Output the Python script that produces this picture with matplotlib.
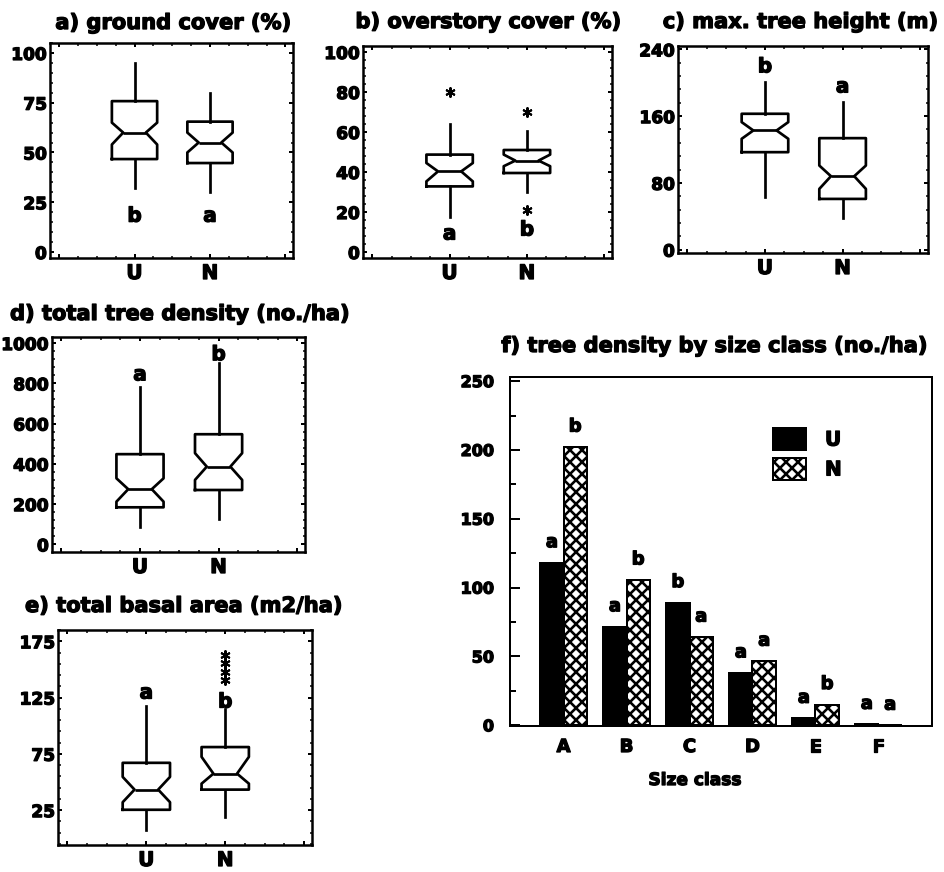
import matplotlib
matplotlib.use("Agg")
import matplotlib.pyplot as plt
import matplotlib.patheffects as pe
from matplotlib.text import Text
from matplotlib.ticker import AutoMinorLocator
import numpy as np

plt.rcParams['font.family'] = ['DejaVu Sans']
plt.rcParams['font.weight'] = 'bold'
plt.rcParams['hatch.linewidth'] = 2.6

W, H = 944, 872

groups = ['U', 'N']

# box stats per group: whislo, q1, notch low, median, notch high, q3, whishi
ground_U = [32, 46.7, 54, 60, 65, 75.8, 95]
ground_N = [30, 44.7, 50, 55, 60, 65.5, 80]
over_U = [17.6, 32.8, 35.3, 40.3, 44.5, 48.7, 63.9]
over_N = [30, 39.5, 42.9, 45.7, 48.7, 51, 60.5]
height_U = [62.8, 116.8, 132.8, 142.8, 152.8, 162.8, 200.8]
height_N = [37.6, 60.8, 72.8, 88, 100.8, 133.6, 176.8]
dens_U = [85, 184, 212, 274, 328, 448, 781]
dens_N = [124, 270, 320, 386, 453, 547, 900]
basal_U = [7.4, 25.3, 32, 43.2, 54.5, 67, 117.6]
basal_N = [19.3, 43.2, 48.5, 57.4, 72.3, 81, 114.6]

# outliers
over_fliers_U = [80]
over_fliers_N = [70, 21]
basal_fliers_N = [141, 148, 155.7, 163]

# significance letters (U, N)
ground_letters = ['b', 'a']
over_letters = ['a', 'b']
height_letters = ['b', 'a']
dens_letters = ['a', 'b']
basal_letters = ['a', 'b']
ground_letter_y = [18, 18]
over_letter_y = [9, 11]
height_letter_y = [219, 195]
dens_letter_y = [842, 942]
basal_letter_y = [129, 121]

# f) size class bars
size_classes = ['A', 'B', 'C', 'D', 'E', 'F']
size_U = [118, 71.5, 89, 38, 5, 0.6]
size_N = [202, 105.5, 64, 46.5, 15, 0]
size_letters_U = ['a', 'a', 'b', 'a', 'a', 'a']
size_letters_N = ['b', 'b', 'a', 'a', 'b', 'a']


def rect(x0, y0, x1, y1):
    return [x0 / W, 1 - y1 / H, (x1 - x0) / W, (y1 - y0) / H]


def stats(v, fliers=()):
    return dict(whislo=v[0], q1=v[1], cilo=v[2], med=v[3], cihi=v[4],
                q3=v[5], whishi=v[6], fliers=list(fliers))


fig = plt.figure(figsize=(W / 72, H / 72), dpi=72)

line = dict(color='black', linewidth=2.7)
flier = dict(marker=(6, 2, 0), markersize=10, markeredgecolor='black',
             markeredgewidth=2, linestyle='none')

panels = [
    ((50, 43, 293, 258), stats(ground_U), stats(ground_N),
     (-3, 105), [0, 25, 50, 75, 100], ground_letters, ground_letter_y),
    ((363, 46, 612, 258), stats(over_U, over_fliers_U), stats(over_N, over_fliers_N),
     (-3, 103), [0, 20, 40, 60, 80, 100], over_letters, over_letter_y),
    ((678, 46, 928, 253), stats(height_U), stats(height_N),
     (-4, 244), [0, 80, 160, 240], height_letters, height_letter_y),
    ((52, 337, 305, 552), stats(dens_U), stats(dens_N),
     (-38, 1030), [0, 200, 400, 600, 800, 1000], dens_letters, dens_letter_y),
    ((58, 630, 312, 845), stats(basal_U), stats(basal_N, basal_fliers_N),
     (-6, 185), [25, 75, 125, 175], basal_letters, basal_letter_y),
]

for box, su, sn, ylim, yticks, letters, letter_y in panels:
    ax = fig.add_axes(rect(*box))
    ax.bxp([su, sn], positions=[1, 2], widths=0.6, shownotches=True,
           showcaps=False, showfliers=True, manage_ticks=False,
           boxprops=line, whiskerprops=line, medianprops=line,
           flierprops=flier)
    for i in range(2):
        ax.text(i + 1, letter_y[i], letters[i], ha='center', va='center',
                fontsize=20, fontweight='bold')
    ax.set_xlim(-0.12, 3.1)
    ax.set_ylim(*ylim)
    ax.set_xticks([0, 1, 2, 3])
    ax.set_xticklabels(['', 'U', 'N', ''], fontsize=20, fontweight='bold')
    ax.set_yticks(yticks)
    ax.set_yticklabels([str(t) for t in yticks], fontsize=17, fontweight='bold')
    ax.xaxis.set_minor_locator(AutoMinorLocator(4))
    ax.yaxis.set_minor_locator(AutoMinorLocator(5))
    ax.tick_params(which='both', direction='in', top=True, right=True, width=2)
    ax.tick_params(which='major', length=4, pad=3)
    ax.tick_params(axis='x', which='major', pad=6)
    ax.tick_params(which='minor', length=2.5, width=1.5)
    for s in ax.spines.values():
        s.set_linewidth(2.5)

# f) bar chart
axf = fig.add_axes(rect(510, 377, 932, 726))
x = np.arange(len(size_classes))
w = 0.37
bu = axf.bar(x - w / 2, size_U, w, color='black', edgecolor='black', linewidth=2)
bn = axf.bar(x + w / 2, size_N, w, color='white', edgecolor='black',
             hatch='xx', linewidth=2)
for i in range(len(size_classes)):
    axf.text(x[i] - w / 2, size_U[i] + 15, size_letters_U[i], ha='center',
             va='center', fontsize=18, fontweight='bold')
    axf.text(x[i] + w / 2, size_N[i] + 15, size_letters_N[i], ha='center',
             va='center', fontsize=18, fontweight='bold')
axf.set_xlim(-0.85, 5.85)
axf.set_ylim(-0.5, 253)
axf.set_xticks(x)
axf.set_xticklabels(size_classes, fontsize=18, fontweight='bold')
axf.set_yticks([0, 50, 100, 150, 200, 250])
axf.set_yticklabels(['0', '50', '100', '150', '200', '250'], fontsize=16,
                    fontweight='bold')
axf.yaxis.set_minor_locator(AutoMinorLocator(2))
axf.tick_params(axis='x', length=0, pad=12)
axf.tick_params(axis='y', which='both', direction='in', width=2, pad=16)
axf.tick_params(axis='y', which='major', length=10)
axf.tick_params(axis='y', which='minor', length=6)
for s in axf.spines.values():
    s.set_linewidth(2)
axf.legend([bu, bn], ['U', 'N'], loc='upper left', bbox_to_anchor=(0.5995, 0.8825),
           frameon=False, borderpad=0, handlelength=1.65, handleheight=1.3,
           handletextpad=0.95, labelspacing=0.4, prop=dict(size=20, weight='bold'))

# panel titles and axis label
def ftext(px, py, s, **kw):
    fig.text(px / W, 1 - py / H, s, fontsize=21, fontweight='bold', **kw)

ftext(173, 29, 'a) ground cover (%)', ha='center', va='baseline')
ftext(488, 28, 'b) overstory cover (%)', ha='center', va='baseline')
ftext(800, 28, 'c) max. tree height (m)', ha='center', va='baseline')
ftext(10, 320, 'd) total tree density (no./ha)', ha='left', va='baseline')
ftext(25, 612, 'e) total basal area (m2/ha)', ha='left', va='baseline')
ftext(714, 352, 'f) tree density by size class (no./ha)', ha='center', va='baseline')
fig.text(695 / W, 1 - 780 / H, 'Size class', fontsize=17, fontweight='bold',
         ha='center', va='center')

# heavier, blotchy print look for all text
for t in fig.findobj(Text):
    t.set_path_effects([pe.withStroke(linewidth=1.3, foreground='black')])

fig.savefig('out.png', dpi=72)
